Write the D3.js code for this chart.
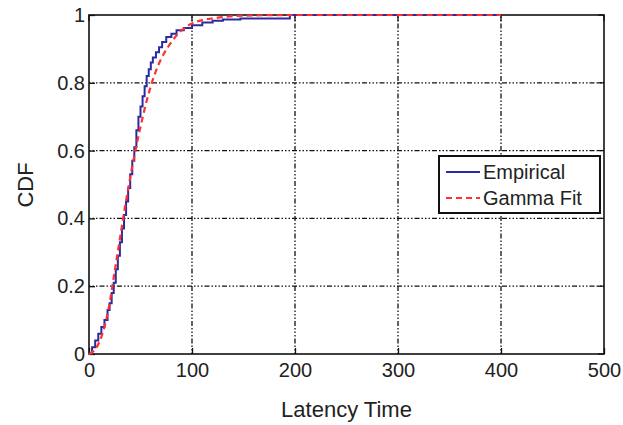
<!DOCTYPE html>
<html>
<head>
<meta charset="utf-8">
<script src="https://cdn.jsdelivr.net/npm/d3@7"></script>
<style>
body{margin:0;background:#fff}
text{font-family:"Liberation Sans",Arial,sans-serif;fill:#222}
</style>
</head>
<body>
<div id="chart"></div>
<script>
// empirical CDF (step)
const empX=[0,3,6,9,12,15,18,20,22,24,26,28,30,32,34,36,38,40,42,44,46,48,50,52,54,56,58,60,62,65,68,71,75,80,85,92,100,110,120,130,147,195,400]
const empY=[0,0.02,0.04,0.06,0.08,0.1,0.13,0.15,0.18,0.21,0.25,0.29,0.33,0.37,0.41,0.45,0.49,0.53,0.57,0.61,0.66,0.7,0.73,0.76,0.79,0.82,0.84,0.86,0.875,0.89,0.905,0.92,0.935,0.945,0.955,0.962,0.97,0.978,0.983,0.987,0.99,1,1]
// gamma fit curve
const fitX=[0,5,10,15,20,25,30,35,40,45,50,55,60,65,70,80,90,100,110,120,150,200,400]
const fitY=[0,0.01,0.035,0.08,0.15,0.245,0.34,0.435,0.52,0.6,0.67,0.735,0.79,0.835,0.87,0.92,0.955,0.975,0.985,0.99,0.998,1,1]
const xTicks=[0,100,200,300,400,500]
const yTicks=[0,0.2,0.4,0.6,0.8,1]
const legendNames=["Empirical","Gamma Fit"]

const width=623,height=425
const m={left:89,top:15,right:19,bottom:71}

const svg=d3.select("#chart").append("svg")
.attr("width",width).attr("height",height)

const x=d3.scaleLinear().domain([0,500]).range([m.left,width-m.right])
const y=d3.scaleLinear().domain([0,1]).range([height-m.bottom,m.top])

const grid="1.5,2,1.5,2,1.5,2,5,2"

// grid
svg.selectAll(".gx").data(xTicks.slice(1,-1)).enter().append("line")
.attr("x1",d=>x(d)).attr("x2",d=>x(d)).attr("y1",y(0)).attr("y2",y(1))
.attr("stroke","#111").attr("stroke-width",1.3).attr("stroke-dasharray",grid)
svg.selectAll(".gy").data(yTicks.slice(1,-1)).enter().append("line")
.attr("x1",x(0)).attr("x2",x(500)).attr("y1",d=>y(d)).attr("y2",d=>y(d))
.attr("stroke","#111").attr("stroke-width",1.3).attr("stroke-dasharray",grid)

// axes
const xAxis=d3.axisBottom(x).tickValues(xTicks).tickSize(-6).tickPadding(9).tickFormat(d3.format("d"))
const yAxis=d3.axisLeft(y).tickValues(yTicks).tickSize(-6).tickPadding(4).tickFormat(d=>d===0||d===1?d:d3.format(".1f")(d))

const gx=svg.append("g").attr("transform","translate(0,"+y(0)+")").call(xAxis)
const gy=svg.append("g").attr("transform","translate("+x(0)+",0)").call(yAxis)
;[gx,gy].forEach(g=>{
g.select(".domain").remove()
g.selectAll("line").attr("stroke","#111").attr("stroke-width",1.3)
g.selectAll("text").style("font-size","20px").attr("fill","#222")
})
// top/right ticks
svg.selectAll(".tt").data(xTicks).enter().append("line")
.attr("x1",d=>x(d)).attr("x2",d=>x(d)).attr("y1",y(1)).attr("y2",y(1)+6)
.attr("stroke","#111").attr("stroke-width",1.3)
svg.selectAll(".rt").data(yTicks).enter().append("line")
.attr("x1",x(500)).attr("x2",x(500)-6).attr("y1",d=>y(d)).attr("y2",d=>y(d))
.attr("stroke","#111").attr("stroke-width",1.3)

// box
svg.append("rect")
.attr("x",x(0)).attr("y",y(1)).attr("width",x(500)-x(0)).attr("height",y(0)-y(1))
.attr("fill","none").attr("stroke","#111").attr("stroke-width",1.6)

// lines
svg.append("path")
.datum(d3.zip(empX,empY))
.attr("d",d3.line().x(d=>x(d[0])).y(d=>y(d[1])).curve(d3.curveStepAfter))
.attr("fill","none").attr("stroke","#2b2b9e").attr("stroke-width",2)
svg.append("path")
.datum(d3.zip(fitX,fitY))
.attr("d",d3.line().x(d=>x(d[0])).y(d=>y(d[1])).curve(d3.curveMonotoneX))
.attr("fill","none").attr("stroke","#ff3030").attr("stroke-width",2.2).attr("stroke-dasharray","6,4")

// labels
svg.append("text").attr("x",(x(0)+x(500))/2).attr("y",417).attr("text-anchor","middle")
.style("font-size","22px").text("Latency Time")
svg.append("text").attr("transform","translate(33,185) rotate(-90)").attr("text-anchor","middle")
.style("font-size","22px").text("CDF")

// legend
const lg=svg.append("g").attr("transform","translate(439,156)")
lg.append("rect").attr("width",161).attr("height",57)
.attr("fill","#fff").attr("stroke","#111").attr("stroke-width",2)
const styles=[{c:"#2b2b9e",d:null},{c:"#ff3030",d:"6,4"}]
legendNames.forEach((n,i)=>{
const yy=16+i*26
lg.append("line").attr("x1",7).attr("x2",41).attr("y1",yy).attr("y2",yy)
.attr("stroke",styles[i].c).attr("stroke-width",2).attr("stroke-dasharray",styles[i].d)
lg.append("text").attr("x",44).attr("y",yy+7).style("font-size","20px").text(n)
})
</script>
</body>
</html>
